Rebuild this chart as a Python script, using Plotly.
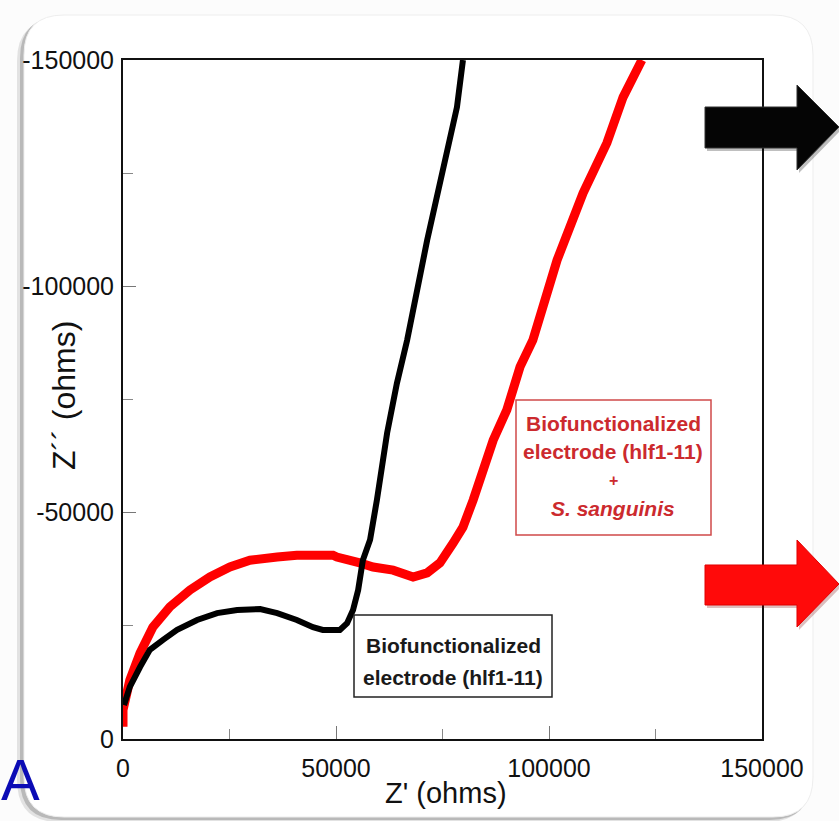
import plotly.graph_objects as go

# ---------------- data ----------------
black_zre = [230, 1600, 4000, 6300, 9400, 12700, 17400, 22100, 26800, 32200, 36200,
             40800, 44600, 46900, 50900, 52600, 54000, 55200, 56300, 58000, 59600,
             62000, 64300, 66700, 71400, 75100, 78400, 79800]
black_zim = [-7500, -11500, -15900, -19700, -21900, -24100, -26300, -27800, -28500,
             -28700, -27800, -26300, -24700, -24100, -24100, -25600, -28500, -32900,
             -39500, -44000, -52800, -67600, -78600, -88100, -110200, -125000,
             -139600, -150000]

red_zre = [0, 0, 1600, 4000, 7000, 11000, 15700, 20400, 25100, 29800, 36200, 40800,
           49300, 50200, 55600, 58700, 63400, 68100, 71400, 74400, 77500, 79800,
           82200, 84500, 86900, 90100, 93200, 96200, 101900, 108000, 113600, 117400,
           121800]
red_zim = [-2700, -6400, -13000, -19000, -24700, -29200, -32900, -35800, -38000,
           -39500, -40200, -40600, -40600, -40200, -38900, -38000, -37300, -35800,
           -36700, -38900, -43300, -46800, -52800, -60100, -66000, -72700, -82200,
           -88100, -105800, -120600, -131700, -141800, -150000]

x_tickvals = [0, 50000, 100000, 150000]
x_ticktext = ["0", "50000", "100000", "150000"]
y_tickvals = [0, -50000, -100000, -150000]
y_ticktext = ["0", "-50000", "-100000", "-150000"]
x_minor = [25000, 75000, 125000]
y_minor = [-25000, -75000, -125000]

label_black = ["Biofunctionalized", "electrode (hlf1-11)"]
label_red = ["Biofunctionalized", "electrode (hlf1-11)", "+", "<i>S. sanguinis</i>"]

# ---------------- layout helpers ----------------
W, H = 839, 821
ML, MR, MT, MB = 123, 77, 60, 82
PW, PH = W - ML - MR, H - MT - MB


def PX(px):
    return (px - ML) / PW


def PY(py):
    return (H - MB - py) / PH


def path(points):
    s = "M " + " L ".join(f"{PX(x):.5f},{PY(y):.5f}" for x, y in points) + " Z"
    return s


def rrect(x0, y0, x1, y1, r):
    def p(x, y):
        return f"{PX(x):.5f},{PY(y):.5f}"
    return (f"M {p(x0 + r, y0)} L {p(x1 - r, y0)} Q {p(x1, y0)} {p(x1, y0 + r)} "
            f"L {p(x1, y1 - r)} Q {p(x1, y1)} {p(x1 - r, y1)} "
            f"L {p(x0 + r, y1)} Q {p(x0, y1)} {p(x0, y1 - r)} "
            f"L {p(x0, y0 + r)} Q {p(x0, y0)} {p(x0 + r, y0)} Z")


FONT = "Liberation Sans, Arial, Helvetica, sans-serif"

fig = go.Figure()
fig.add_trace(go.Scatter(x=red_zre, y=red_zim, mode="lines",
                         line=dict(color="#ff0000", width=9), hoverinfo="skip"))
fig.add_trace(go.Scatter(x=black_zre, y=black_zim, mode="lines",
                         line=dict(color="#000000", width=6), hoverinfo="skip"))

shapes = []
# card shadow + card
shapes.append(dict(type="path", xref="paper", yref="paper", layer="below",
                   path=rrect(17, 19, 809, 822, 42), fillcolor="rgba(0,0,0,0.10)",
                   line=dict(width=0)))
shapes.append(dict(type="path", xref="paper", yref="paper", layer="below",
                   path=rrect(20, 17, 811, 820, 41), fillcolor="rgba(0,0,0,0.18)",
                   line=dict(width=0)))
shapes.append(dict(type="path", xref="paper", yref="paper", layer="below",
                   path=rrect(24, 15, 813, 817, 40), fillcolor="#ffffff",
                   line=dict(color="#eeeeee", width=1)))
# label boxes
shapes.append(dict(type="rect", xref="paper", yref="paper", layer="above",
                   x0=PX(354), x1=PX(552), y0=PY(615), y1=PY(697),
                   fillcolor="rgba(255,255,255,0)", line=dict(color="#222222", width=1.5)))
shapes.append(dict(type="rect", xref="paper", yref="paper", layer="above",
                   x0=PX(516), x1=PX(711), y0=PY(400), y1=PY(535),
                   fillcolor="rgba(255,255,255,0)", line=dict(color="#d04a4a", width=1.5)))
# arrows
black_arrow = [(705, 107), (797, 107), (797, 85), (839, 127), (797, 170), (797, 148), (705, 148)]
red_arrow = [(705, 565), (797, 565), (797, 540), (839, 584), (797, 627), (797, 605), (705, 605)]
shapes.append(dict(type="path", xref="paper", yref="paper", layer="above",
                   path=path([(x + 2, y + 3) for x, y in black_arrow]),
                   fillcolor="rgba(0,0,0,0.25)", line=dict(width=0)))
shapes.append(dict(type="path", xref="paper", yref="paper", layer="above",
                   path=path(black_arrow), fillcolor="#050505",
                   line=dict(color="#333333", width=1)))
shapes.append(dict(type="path", xref="paper", yref="paper", layer="above",
                   path=path([(x + 2, y + 3) for x, y in red_arrow]),
                   fillcolor="rgba(120,0,0,0.25)", line=dict(width=0)))
shapes.append(dict(type="path", xref="paper", yref="paper", layer="above",
                   path=path(red_arrow), fillcolor="#ff0a0a",
                   line=dict(color="#e00000", width=1)))

annotations = []
# axis titles
annotations.append(dict(text="Z' (ohms)", xref="paper", yref="paper", x=PX(446), y=PY(793),
                        showarrow=False, xanchor="center", yanchor="middle",
                        font=dict(family=FONT, size=29, color="#111111")))
annotations.append(dict(text="Z´´ (ohms)", xref="paper", yref="paper", x=PX(64), y=PY(396),
                        showarrow=False, xanchor="center", yanchor="middle", textangle=-90,
                        font=dict(family=FONT, size=32, color="#111111")))
# panel letter
annotations.append(dict(text="A", xref="paper", yref="paper", x=PX(20), y=PY(779),
                        showarrow=False, xanchor="center", yanchor="middle",
                        font=dict(family=FONT, size=58, color="#0b0bb5")))
# black label
for txt, yy in zip(label_black, [645, 677]):
    annotations.append(dict(text=f"<b>{txt}</b>", xref="paper", yref="paper",
                            x=PX(453), y=PY(yy), showarrow=False,
                            xanchor="center", yanchor="middle",
                            font=dict(family=FONT, size=21, color="#1a1a1a")))
# red label
for txt, yy, sz in zip(label_red, [423, 452, 480, 508], [21, 21, 16, 21]):
    annotations.append(dict(text=f"<b>{txt}</b>", xref="paper", yref="paper",
                            x=PX(613), y=PY(yy), showarrow=False,
                            xanchor="center", yanchor="middle",
                            font=dict(family=FONT, size=sz, color="#cc2a2e")))

fig.update_layout(
    width=W, height=H,
    margin=dict(l=ML, r=MR, t=MT, b=MB, pad=0),
    paper_bgcolor="#fcfcfc",
    plot_bgcolor="rgba(0,0,0,0)",
    showlegend=False,
    shapes=shapes,
    annotations=annotations,
    font=dict(family=FONT, color="#111111"),
)
fig.update_xaxes(range=[0, 150000], tickmode="array", tickvals=x_tickvals, ticktext=x_ticktext,
                 ticks="inside", ticklen=13, tickwidth=1, tickcolor="#777777",
                 minor=dict(tickmode="array", tickvals=x_minor, ticks="inside", ticklen=10,
                            tickwidth=1, tickcolor="#888888", showgrid=False),
                 showline=True, linecolor="#111111", linewidth=2, mirror=True,
                 showgrid=False, zeroline=False, ticklabelstandoff=6,
                 tickfont=dict(family=FONT, size=25, color="#111111"))
fig.update_yaxes(range=[0, -150000], tickmode="array", tickvals=y_tickvals, ticktext=y_ticktext,
                 ticks="inside", ticklen=13, tickwidth=1, tickcolor="#777777",
                 minor=dict(tickmode="array", tickvals=y_minor, ticks="inside", ticklen=10,
                            tickwidth=1, tickcolor="#888888", showgrid=False),
                 showline=True, linecolor="#111111", linewidth=2, mirror=True,
                 showgrid=False, zeroline=False, ticklabelstandoff=2,
                 tickfont=dict(family=FONT, size=25, color="#111111"))

fig.write_html("out.html")
